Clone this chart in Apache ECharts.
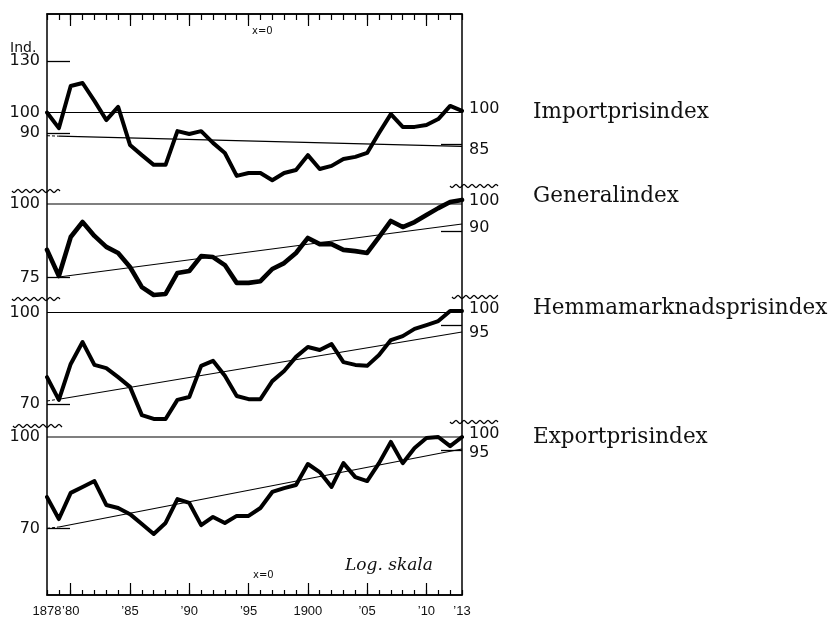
<!DOCTYPE html>
<html><head><meta charset="utf-8">
<script src="https://cdn.jsdelivr.net/npm/echarts@6/dist/echarts.min.js"></script>
<style>html,body{margin:0;padding:0;background:#fff}#c{width:834px;height:621px}</style>
</head><body><div id="c"></div>
<script>
// ---------- DATA ----------
const years = [1878,1879,1880,1881,1882,1883,1884,1885,1886,1887,1888,1889,1890,1891,1892,1893,1894,1895,1896,1897,1898,1899,1900,1901,1902,1903,1904,1905,1906,1907,1908,1909,1910,1911,1912,1913];
const importIdx  = [100,92.3,114.5,116.3,106.1,96.2,102.9,84.7,80.4,76.5,76.5,90.9,89.6,90.9,85.6,81.3,72.3,73.4,73.4,70.7,73.4,74.5,80.4,74.9,76.1,78.8,79.7,81.3,90.0,99.2,92.9,92.9,93.8,96.7,103.4,100.8];
const generalIdx = [83.6,75.5,87.9,93.2,88.3,84.6,82.6,78.2,72.3,70.1,70.4,76.4,77.0,81.6,81.3,78.8,73.5,73.5,74.0,77.6,79.4,82.6,87.6,85.5,85.5,83.6,83.2,82.6,87.9,93.6,91.4,93.2,95.8,98.4,100.8,101.6];
const homeIdx    = [77.7,71.1,81.8,89.1,81.5,80.5,77.7,74.8,67.0,66.0,66.0,71.1,71.9,81.2,82.8,78.1,72.2,71.3,71.3,76.5,79.6,84.1,87.4,86.4,88.4,82.4,81.5,81.2,84.7,89.8,91.2,93.8,95.2,96.7,100.6,100.6];
const exportIdx  = [79.1,72.6,80.4,82.3,84.2,76.7,75.8,74.0,71.2,68.5,71.5,78.5,77.3,70.9,73.2,71.5,73.5,73.5,75.8,80.7,81.9,82.9,90.0,87.2,82.3,90.3,85.5,84.2,90.3,98.1,90.3,95.8,99.6,100,96.5,100];
const seriesNames = ['Importprisindex','Generalindex','Hemmamarknadsprisindex','Exportprisindex'];
const baseValue = 100;
const trendYears = [1879, 1913];
const importTrend  = [88.6, 84.1];
const generalTrend = [75.2, 92.5];
const homeTrend    = [71.3, 92.7];
const exportTrend  = [70.4, 95.4];
const dashYears = [1878, 1879];
const importDash = [88.8, 88.6];
const homeDash   = [70.8, 71.3];
const exportDash = [70.0, 70.4];
const leftLabels  = [[130,100,90],[100,75],[100,70],[100,70]];
const leftTicks   = [[130,90],[75],[70],[70]];
const rightLabels = [[100,85],[100,90],[100,95],[100,95]];
const rightTicks  = [[85],[90],[95],[95]];
const xLabelYears = [1878,1880,1885,1890,1895,1900,1905,1910,1913];
const xMajorYears = [1880,1885,1890,1895,1900,1905,1910];

// ---------- LAYOUT ----------
const GRID = {left:47, right:372, top:14, bottom:26};
const H = 621;
const gridBottomPx = H - GRID.bottom;
const PANEL_Y100 = [112.5, 204, 312.5, 437];   // pixel row of the 100-line in each panel
const PX_PER_DECADE = [450, 590, 590, 590];
// small vertical nudges (px) of right-hand labels, as in the original print
const RIGHT_SHIFT = [{100:-4, 85:6}, {100:-3, 90:-3}, {100:-4, 95:7}, {100:-3, 95:3}];
const panelData = [importIdx, generalIdx, homeIdx, exportIdx];
const panelTrend = [importTrend, generalTrend, homeTrend, exportTrend];
const panelDash = [importDash, null, homeDash, exportDash];

function extentFor(i){
  const y100 = PANEL_Y100[i], k = PX_PER_DECADE[i];
  return {
    min: 100*Math.pow(10,(y100-gridBottomPx)/k),
    max: 100*Math.pow(10,(y100-GRID.top)/k)
  };
}
const FONT = 'DejaVu Sans';
const yAxes = [];
['left','right'].forEach(function(pos){
  PANEL_Y100.forEach(function(y100,i){
    const e = extentFor(i);
    const shifts = pos==='right' ? RIGHT_SHIFT[i] : {};
    const rich = {};
    Object.keys(shifts).forEach(function(key){
      const s = shifts[key];
      rich['s'+key] = {fontSize:16, fontFamily:FONT, color:'#111',
        padding: s>0 ? [2*s,0,0,0] : [0,0,-2*s,0]};
    });
    yAxes.push({
      type:'log', logBase:10, min:e.min, max:e.max, position:pos, gridIndex:0,
      axisLine:{show:false}, splitLine:{show:false}, minorTick:{show:false},
      axisTick:{show:true, inside:true, length:pos==='left'?23:21,
        customValues:(pos==='left'?leftTicks:rightTicks)[i],
        lineStyle:{color:'#000',width:1.3}},
      axisLabel:{customValues:(pos==='left'?leftLabels:rightLabels)[i], hideOverlap:false,
        color:'#111', fontSize:16, fontFamily:FONT, margin:7, rich:rich,
        formatter:function(v){
          const r = String(Math.round(v));
          return shifts[r] ? '{s'+r+'|'+r+'}' : r;
        }}
    });
  });
});

const xBase = {type:'value', min:1878, max:1913, interval:1, gridIndex:0, splitLine:{show:false}};
const xAxes = [
  Object.assign({}, xBase, {position:'bottom',
    axisLine:{show:true,lineStyle:{color:'#000',width:1.5}},
    axisTick:{show:true,inside:true,length:5,lineStyle:{color:'#000',width:1.2}},
    axisLabel:{customValues:xLabelYears, hideOverlap:false,
      color:'#111', fontSize:13, fontFamily:'Liberation Sans', margin:10,
      formatter:function(v){return (v===1878||v===1900)?String(v):'\u2019'+String(v).slice(2);}}}),
  Object.assign({}, xBase, {position:'bottom',
    axisLine:{show:false},
    axisTick:{show:true,inside:true,length:12,customValues:xMajorYears,lineStyle:{color:'#000',width:1.2}},
    axisLabel:{show:false}}),
  Object.assign({}, xBase, {position:'top',
    axisLine:{show:true,lineStyle:{color:'#000',width:1.5}},
    axisTick:{show:true,inside:true,length:6,lineStyle:{color:'#000',width:1.2}},
    axisLabel:{show:false}}),
  Object.assign({}, xBase, {position:'top',
    axisLine:{show:false},
    axisTick:{show:true,inside:true,length:12,customValues:xMajorYears,lineStyle:{color:'#000',width:1.2}},
    axisLabel:{show:false}})
];

const series = [];
panelData.forEach(function(vals,i){
  series.push({type:'line', name:seriesNames[i]+' 100', xAxisIndex:0, yAxisIndex:i, symbol:'none', silent:true,
    data:[[years[0],baseValue],[years[years.length-1],baseValue]],
    lineStyle:{color:'#000',width:1.2}, z:2});
  series.push({type:'line', name:seriesNames[i]+' trend', xAxisIndex:0, yAxisIndex:i, symbol:'none', silent:true,
    data:trendYears.map(function(y,j){return [y,panelTrend[i][j]];}),
    lineStyle:{color:'#000',width:1.1}, z:2});
  if(panelDash[i]) series.push({type:'line', xAxisIndex:0, yAxisIndex:i, symbol:'none', silent:true,
    data:dashYears.map(function(y,j){return [y,panelDash[i][j]];}),
    lineStyle:{color:'#000',width:1,type:[3,2]}, z:2});
  series.push({type:'line', name:seriesNames[i], xAxisIndex:0, yAxisIndex:i, symbol:'none', silent:true,
    data:years.map(function(y,j){return [y,vals[j]];}),
    lineStyle:{color:'#000',width:i===1?4.6:4,join:'round',cap:'round'}, z:5});
});

// ---------- DECORATION ----------
function wave(x0,x1,y){
  const pts=[];
  for(let x=x0;x<=x1;x+=1){pts.push([x,y+1.6*Math.sin((x-x0)/8*2*Math.PI)]);}
  return {type:'polyline', shape:{points:pts, smooth:0}, style:{stroke:'#000',lineWidth:1.2,fill:null}, silent:true, z:10};
}
const NAME_Y = [113, 197, 309, 438];
const graphics = [
  {type:'text', left:10, top:41, style:{text:'Ind.', font:'14px "DejaVu Sans"', fill:'#111'}},
  {type:'text', left:252, top:26, style:{text:'x=0', font:'10px "DejaVu Sans"', fill:'#111'}},
  {type:'text', left:253, top:570, style:{text:'x=0', font:'10px "DejaVu Sans"', fill:'#111'}},
  {type:'text', left:345, top:557, style:{text:'Log. skala', font:'italic 17px "DejaVu Serif"', fill:'#111'}},
  wave(12,60,191), wave(450,498,186),
  wave(12,60,299), wave(452,498,297),
  wave(13,62,426), wave(450,498,422)
];
seriesNames.forEach(function(n,i){
  graphics.push({type:'text', left:533, top:NAME_Y[i]-12, style:{text:n, font:'21.5px "DejaVu Serif"', fill:'#111'}});
});

const chart = echarts.init(document.getElementById('c'), null, {renderer:'canvas'});
chart.setOption({
  animation:false,
  backgroundColor:'#fff',
  grid:{left:GRID.left, right:GRID.right, top:GRID.top, bottom:GRID.bottom, show:true, borderColor:'#000', borderWidth:1.5, containLabel:false},
  xAxis:xAxes,
  yAxis:yAxes,
  series:series,
  graphic:graphics
});
</script></body></html>
